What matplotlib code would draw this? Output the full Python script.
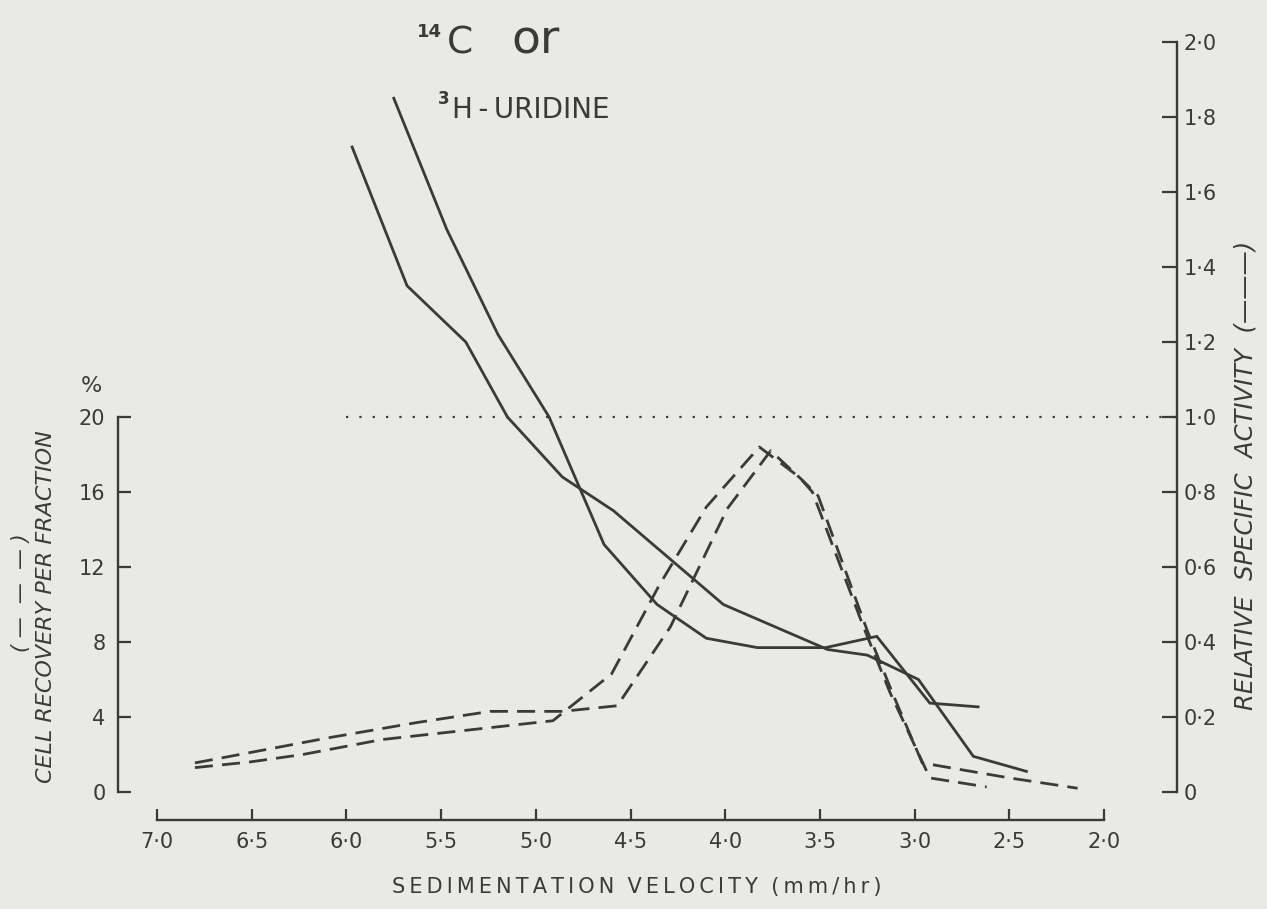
import matplotlib
matplotlib.use("Agg")
import matplotlib.pyplot as plt
from matplotlib.ticker import FixedLocator, FixedFormatter

# ---- data -------------------------------------------------------------
# Relative specific activity (solid lines), two experiments
rsa_a_x = [5.97, 5.68, 5.37, 5.15, 4.86, 4.59, 4.01, 3.46, 3.25, 2.98, 2.69, 2.41]
rsa_a_y = [1.72, 1.35, 1.20, 1.00, 0.84, 0.75, 0.50, 0.38, 0.365, 0.30, 0.095, 0.055]

rsa_b_x = [5.75, 5.47, 5.20, 4.93, 4.64, 4.36, 4.10, 3.83, 3.47, 3.20, 2.92, 2.665]
rsa_b_y = [1.85, 1.50, 1.22, 1.00, 0.66, 0.50, 0.41, 0.385, 0.385, 0.415, 0.237, 0.227]

# Cell recovery per fraction, % (dashed lines)
rec_a_x = [6.80, 6.51, 6.23, 5.81, 5.45, 4.91, 4.60, 4.35, 4.10, 3.82, 3.61, 3.54, 3.27, 3.13, 2.92, 2.62]
rec_a_y = [1.3, 1.6, 2.0, 2.8, 3.2, 3.8, 6.3, 11.0, 15.2, 18.4, 16.8, 16.0, 8.8, 5.3, 0.75, 0.27]

rec_b_x = [6.80, 6.51, 6.09, 5.63, 5.24, 4.86, 4.57, 4.29, 3.99, 3.76, 3.59, 3.51, 3.25, 3.11, 2.96, 2.76, 2.50, 2.14]
rec_b_y = [1.55, 2.1, 2.9, 3.7, 4.3, 4.3, 4.6, 8.8, 15.1, 18.2, 16.6, 15.8, 8.6, 5.1, 1.55, 1.2, 0.75, 0.2]

ref_level = 1.0          # relative specific activity of unfractionated cells
ref_start = 6.0

x_ticks = [7.0, 6.5, 6.0, 5.5, 5.0, 4.5, 4.0, 3.5, 3.0, 2.5, 2.0]
x_tick_labels = ["7·0", "6·5", "6·0", "5·5", "5·0", "4·5", "4·0", "3·5", "3·0", "2·5", "2·0"]
rec_ticks = [0, 4, 8, 12, 16, 20]
rec_tick_labels = ["0", "4", "8", "12", "16", "20"]
rsa_ticks = [0, 0.2, 0.4, 0.6, 0.8, 1.0, 1.2, 1.4, 1.6, 1.8, 2.0]
rsa_tick_labels = ["0", "0·2", "0·4", "0·6", "0·8", "1·0", "1·2", "1·4", "1·6", "1·8", "2·0"]

# ---- styling ----------------------------------------------------------
bg = "#e9e9e5"
ink = "#3a3a3a"
W, H = 1267, 909
THIN = "\u2009"

plt.rcParams["font.family"] = ["DejaVu Sans"]


def spaced(text):
    """Open up letter spacing with thin spaces, like stencil lettering."""
    return THIN.join(text)


fig = plt.figure(figsize=(W / 100, H / 100), dpi=100)
fig.patch.set_facecolor(bg)

left_px, right_px, bottom_px, top_px = 118, 1177, 820, 30
ax = fig.add_axes([left_px / W, 1 - bottom_px / H,
                   (right_px - left_px) / W, (bottom_px - top_px) / H])
ax.set_facecolor("none")

# y-scales: 20 % on the left coincides with 1.0 on the right
rsa_lo, rsa_hi = -0.0747, 2.032
ax.set_ylim(rsa_lo * 20, rsa_hi * 20)
ax.set_xlim(7.206, 1.615)

ax2 = ax.twinx()
ax2.set_ylim(rsa_lo, rsa_hi)
ax2.set_facecolor("none")

for sp in ["top", "right"]:
    ax.spines[sp].set_visible(False)
for sp in ["top", "left", "bottom"]:
    ax2.spines[sp].set_visible(False)

for sp in [ax.spines["left"], ax.spines["bottom"], ax2.spines["right"]]:
    sp.set_color(ink)
    sp.set_linewidth(1.7)
ax.spines["left"].set_bounds(0, 20)
ax.spines["bottom"].set_bounds(2.0, 7.0)
ax2.spines["right"].set_bounds(0, 2.0)

ax.xaxis.set_major_locator(FixedLocator(x_ticks))
ax.xaxis.set_major_formatter(FixedFormatter(x_tick_labels))
ax.yaxis.set_major_locator(FixedLocator(rec_ticks))
ax.yaxis.set_major_formatter(FixedFormatter(rec_tick_labels))
ax2.yaxis.set_major_locator(FixedLocator(rsa_ticks))
ax2.yaxis.set_major_formatter(FixedFormatter(rsa_tick_labels))

ax.tick_params(axis="x", direction="in", length=8, width=1.6, color=ink,
               labelsize=15, labelcolor=ink, pad=9)
ax.tick_params(axis="y", direction="in", length=9, width=1.6, color=ink,
               labelsize=15, labelcolor=ink, pad=9)
ax2.tick_params(axis="y", direction="in", length=11, width=1.6, color=ink,
                labelsize=15, labelcolor=ink, pad=5)

# ---- curves -----------------------------------------------------------
ax2.plot(rsa_a_x, rsa_a_y, color=ink, lw=2.0, solid_joinstyle="miter")
ax2.plot(rsa_b_x, rsa_b_y, color=ink, lw=2.0, solid_joinstyle="miter")
ax.plot(rec_a_x, rec_a_y, color=ink, lw=2.0, linestyle=(0, (6.5, 3.3)))
ax.plot(rec_b_x, rec_b_y, color=ink, lw=2.0, linestyle=(0, (6.5, 3.3)))
ax2.plot([ref_start, ax.get_xlim()[1]], [ref_level, ref_level],
         color=ink, lw=1.6, linestyle=(0, (1, 5)))

# ---- texts ------------------------------------------------------------
def fx(px):
    return px / W


def fy(py):
    return 1 - py / H


fig.text(fx(91), fy(386), "%", fontsize=16, color=ink, ha="center", va="center")
fig.text(fx(46), fy(607), "CELL RECOVERY PER FRACTION", rotation=90, fontsize=16,
         style="italic", color=ink, ha="center", va="center")
fig.text(fx(21), fy(593), "( —  —  — )", rotation=90, fontsize=15,
         style="italic", color=ink, ha="center", va="center")
fig.text(fx(1246), fy(475), "RELATIVE  SPECIFIC  ACTIVITY  (———)", rotation=90,
         fontsize=17.5, style="italic", color=ink, ha="center", va="center")
fig.text(fx(637), fy(887), spaced("SEDIMENTATION") + "  " + spaced("VELOCITY")
         + "  " + spaced("(mm/hr)"), fontsize=15, color=ink,
         ha="center", va="center")

# isotope labels
fig.text(fx(417), fy(37), "14", fontsize=13, color=ink, ha="left", va="baseline",
         fontweight="bold")
fig.text(fx(447), fy(53), "C", fontsize=27, color=ink, ha="left", va="baseline")
fig.text(fx(511), fy(53), "or", fontsize=34, color=ink, ha="left", va="baseline")
fig.text(fx(438), fy(104), "3", fontsize=12, color=ink, ha="left", va="baseline",
         fontweight="bold")
fig.text(fx(452), fy(118), "H" + THIN + "-" + THIN + "URIDINE", fontsize=20,
         color=ink, ha="left", va="baseline")

fig.savefig("out.png", dpi=100, facecolor=bg)
